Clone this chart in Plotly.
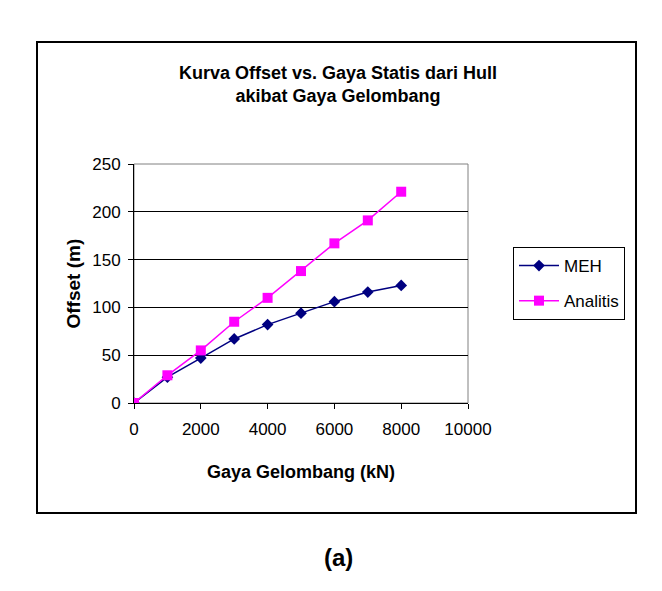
import plotly.graph_objects as go

# Data
gaya = [0, 1000, 2000, 3000, 4000, 5000, 6000, 7000, 8000]          # kN
offset_meh = [0, 27, 47, 67, 82, 94, 106, 116, 123]                 # m
offset_analitis = [0, 29, 55, 85, 110, 138, 167, 191, 221]           # m

x_ticks = [0, 2000, 4000, 6000, 8000, 10000]
x_tick_labels = ["0", "2000", "4000", "6000", "8000", "10000"]
y_ticks = [0, 50, 100, 150, 200, 250]
y_tick_labels = ["0", "50", "100", "150", "200", "250"]

title_text = "Kurva Offset vs. Gaya Statis dari Hull<br>akibat Gaya Gelombang"
x_title = "Gaya Gelombang (kN)"
y_title = "Offset (m)"
caption = "(a)"

FONT = "Liberation Sans, Arial, sans-serif"

fig = go.Figure()
fig.add_trace(go.Scatter(
    x=gaya, y=offset_meh, name="MEH", mode="lines+markers", legendgroup="meh",
    line=dict(color="#000080", width=1.5),
    marker=dict(symbol="diamond", size=9, color="#000080"),
))
fig.add_trace(go.Scatter(
    x=gaya, y=offset_analitis, name="Analitis", mode="lines+markers", legendgroup="ana",
    line=dict(color="#FF00FF", width=1.5),
    marker=dict(symbol="square", size=10, color="#FF00FF"),
))

W, H = 662, 591
L, R, T, B = 134, 468, 164, 403  # plot area pixel box

def px(xp):
    return (xp - L) / (R - L)

def py(yp):
    return (B - yp) / (B - T)

fig.update_layout(
    width=W, height=H,
    margin=dict(l=L, r=W - R, t=T, b=H - B),
    paper_bgcolor="white", plot_bgcolor="white",
    font=dict(family=FONT, size=17, color="black"),
    title=dict(text="<b>" + title_text + "</b>", x=338 / W, xanchor="center",
               y=1 - 79 / H, yanchor="middle", yref="container",
               font=dict(family=FONT, size=18, color="black")),
    xaxis=dict(range=[0, 10000], tickvals=x_ticks, ticktext=x_tick_labels,
               ticks="outside", ticklen=5,
               tickcolor="black", showline=True, linecolor="black", linewidth=1,
               showgrid=False, zeroline=False, ticklabelstandoff=6,
               tickfont=dict(size=17)),
    yaxis=dict(range=[0, 250], tickvals=y_ticks, ticktext=y_tick_labels,
               ticks="outside", ticklen=5,
               tickcolor="black", showline=True, linecolor="black", linewidth=1,
               showgrid=True, gridcolor="black", gridwidth=1, zeroline=False,
               ticklabelstandoff=4, tickfont=dict(size=17)),
    legend=dict(x=px(513), y=py(247), xanchor="left", yanchor="top",
                bgcolor="white", bordercolor="black", borderwidth=1,
                font=dict(family=FONT, size=17), tracegroupgap=10,
                itemwidth=40),
    showlegend=True,
)

# Plot-area border (grey) and outer chart frame (black)
fig.add_shape(type="rect", xref="paper", yref="paper", x0=0, x1=1, y0=0, y1=1,
              line=dict(color="#808080", width=1), layer="below")
fig.add_shape(type="rect", xref="paper", yref="paper",
              x0=px(37), x1=px(636), y0=py(513), y1=py(42),
              line=dict(color="black", width=2), layer="below")

fig.add_annotation(text="<b>" + x_title + "</b>", xref="paper", yref="paper",
                   x=0.5, y=py(472), showarrow=False, xanchor="center", yanchor="middle",
                   font=dict(family=FONT, size=18))
fig.add_annotation(text="<b>" + y_title + "</b>", xref="paper", yref="paper",
                   x=px(73), y=0.5, showarrow=False, textangle=-90,
                   xanchor="center", yanchor="middle",
                   font=dict(family=FONT, size=19))
fig.add_annotation(text="<b>" + caption + "</b>", xref="paper", yref="paper",
                   x=px(338), y=py(557), showarrow=False, xanchor="center", yanchor="middle",
                   font=dict(family=FONT, size=24))

fig.write_html("out.html")
